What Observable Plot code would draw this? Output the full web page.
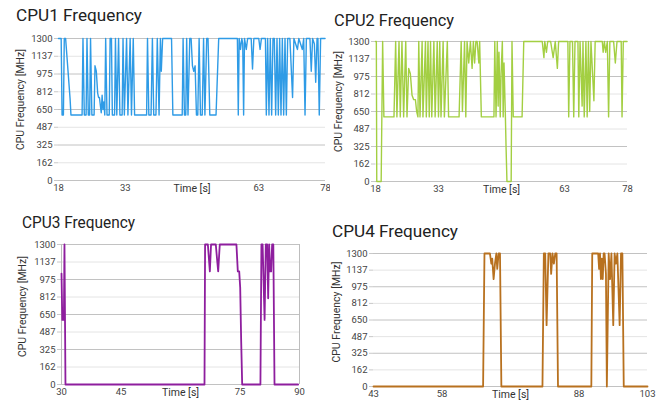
<!DOCTYPE html>
<html><head><meta charset="utf-8">
<script src="https://cdn.jsdelivr.net/npm/d3@7"></script>
<script src="https://cdn.jsdelivr.net/npm/@observablehq/plot@0.6"></script>
<style>
body{margin:0;background:#fff;font-family:Roboto,"Noto Sans",sans-serif;}
#root{position:relative;width:665px;height:400px;overflow:hidden;background:#fff}
.panel{position:absolute;overflow:hidden}
.title{position:absolute;font-size:16.5px;line-height:1;color:#222;white-space:nowrap;font-family:Roboto,sans-serif;transform-origin:0 0}
</style></head><body><div id="root"></div>
<script>
// ---- shared axis values ----
const yTickValues = [0, 162.5, 325, 487.5, 650, 812.5, 975, 1137.5, 1300];
const yTickLabels = ["0", "162", "325", "487", "650", "812", "975", "1137", "1300"];
const yAxisTitle = "CPU Frequency [MHz]";
const xAxisTitle = "Time [s]";

// ---- CPU1 ----
const cpu1Title = "CPU1 Frequency";
const cpu1XTicks = [18, 33, 63, 78];
const cpu1Time = [18.0,18.6,18.8,19.1,19.3,19.6,20.6,20.8,23.3,23.5,23.8,24.2,24.4,24.7,25.0,25.2,25.5,26.0,26.2,26.5,26.8,27.0,27.2,27.4,27.6,27.8,28.0,28.2,28.4,28.6,28.9,29.4,29.6,29.9,30.1,30.6,30.8,31.1,31.5,31.8,32.3,32.5,32.8,33.3,33.6,34.1,34.4,34.8,35.1,37.8,38.0,38.3,38.8,39.1,39.4,39.9,40.2,40.6,40.9,41.1,41.4,43.4,43.7,45.8,46.0,46.3,46.6,46.8,47.1,47.5,47.8,48.1,48.4,48.7,49.0,49.3,49.6,49.9,50.3,50.6,50.9,51.3,51.6,52.0,52.3,53.4,54.0,58.2,58.4,58.6,58.9,59.2,59.4,59.6,59.8,60.2,60.5,61.3,61.6,61.9,63.0,63.3,63.6,64.5,64.7,65.0,65.3,65.6,65.9,66.2,66.5,66.8,67.1,67.4,67.7,68.0,68.3,68.6,68.9,69.2,69.5,70.0,70.6,70.9,71.7,72.0,72.8,73.1,73.4,73.7,74.5,74.8,75.1,75.5,75.8,76.1,76.3,76.6,76.9,77.9];
const cpu1Freq = [1300,1300,600,600,1300,1300,750,600,600,1300,600,600,1300,600,600,1300,600,600,1050,1000,800,760,760,690,620,780,650,720,600,1300,600,600,1300,1300,600,600,1300,600,1300,600,600,1300,600,1300,600,1300,600,1300,600,600,1300,600,600,1300,600,600,1300,600,1300,1000,1300,1300,600,600,1300,600,600,1300,600,1300,1300,1050,1000,1050,600,600,1300,600,600,1300,600,1300,1300,600,600,600,1300,1300,600,1300,1200,1300,1250,600,1300,1200,1300,1300,1020,1300,1300,1200,1300,1300,600,1300,600,1300,600,1300,1300,600,1300,600,1300,600,1300,600,1300,600,1300,1300,760,1300,1200,1300,1200,1300,600,1300,1300,1000,1300,1250,900,1300,1300,600,1300,1300];

// ---- CPU2 ----
const cpu2Title = "CPU2 Frequency";
const cpu2XTicks = [18, 33, 63, 78];
const cpu2Time = [18.0,18.2,18.3,19.35,19.7,20.0,22.4,22.8,23.1,23.6,23.9,24.3,24.7,25.2,25.5,25.9,26.3,26.7,27.1,27.5,27.8,28.1,28.3,28.6,29.1,29.3,29.9,30.1,30.5,30.8,31.1,31.4,31.9,32.2,32.7,33.0,33.3,33.6,34.1,34.4,35.1,35.4,37.9,38.4,38.7,39.2,39.5,39.8,40.2,40.6,41.0,41.3,41.6,41.9,42.2,42.6,42.8,43.2,46.2,46.4,46.7,47.0,47.2,47.4,47.7,47.9,48.2,48.4,48.6,48.9,49.1,49.3,50.3,50.5,50.8,52.9,53.3,57.7,58.1,58.3,58.7,59.0,59.7,60.3,60.8,61.3,61.6,62.8,63.8,64.0,64.3,64.9,65.2,65.5,66.2,66.4,66.7,67.2,67.4,67.7,68.1,68.4,68.7,69.0,69.3,70.0,70.3,72.0,72.2,72.5,72.8,73.2,73.5,73.8,74.7,75.1,75.5,76.5,76.7,77.0,77.9];
const cpu2Freq = [1300,1300,0,0,1300,600,600,1300,600,1300,600,1300,600,1300,600,1050,1000,800,760,760,650,600,1300,600,1300,600,1300,600,1300,600,1300,600,1300,600,1300,600,1300,600,1300,600,1300,600,600,1300,650,1300,600,1300,1100,1300,1050,1300,1100,1300,1300,1100,1300,600,600,1300,600,1300,700,1200,600,1000,1300,600,1100,650,300,0,0,1300,600,600,1300,1300,1150,1300,1200,1300,1300,1150,1300,1050,1300,1300,1300,600,1300,1300,600,1300,1300,600,1300,700,1300,600,1300,600,1300,650,1300,750,1300,1300,1200,1300,1200,1300,600,1300,1300,1100,1300,1300,600,1300,1300];

// ---- CPU3 ----
const cpu3Title = "CPU3 Frequency";
const cpu3XTicks = [30, 45, 75, 90];
const cpu3Time = [30.0,30.2,30.6,30.75,31.0,66.05,66.2,66.9,67.4,67.7,68.9,69.25,69.5,69.9,74.1,74.45,74.8,75.05,75.3,75.55,80.15,80.4,80.7,81.2,81.5,81.85,82.1,82.35,82.6,82.85,83.1,83.4,83.7,89.65];
const cpu3Freq = [1030,600,600,1300,0,0,1300,1300,1050,1300,1300,1150,1050,1300,1300,1050,1050,900,400,0,0,1300,1300,600,1300,1300,800,1300,1050,1050,1300,1300,0,0];

// ---- CPU4 ----
const cpu4Title = "CPU4 Frequency";
const cpu4XTicks = [43, 58, 88, 103];
const cpu4Time = [43.0,67.0,67.3,68.5,68.8,69.0,69.3,69.6,69.9,70.1,70.4,70.7,71.0,80.0,80.3,80.6,80.9,81.3,81.7,81.9,82.2,82.5,82.8,83.1,83.4,90.7,90.9,92.2,92.4,92.6,92.8,93.0,93.2,93.4,93.6,93.9,94.1,94.5,94.8,95.1,95.5,95.8,96.1,96.4,96.9,97.2,97.5,97.8,103.0];
const cpu4Freq = [0,0,1300,1300,1200,1250,1050,1200,1300,1150,1300,1300,0,0,1300,1300,600,1300,1300,1100,1300,1200,1300,1300,0,0,1300,1300,1150,1300,1050,1250,1050,1300,1300,1100,0,1300,1050,1300,600,1300,1200,1300,600,1300,1300,0,0];

const panels = [
  {title: cpu1Title, ticks: cpu1XTicks, t: cpu1Time, v: cpu1Freq, domain: [18, 78], color: "#2e9be6", sw: 1.4,
   box: {left: 0, top: 0, width: 330, height: 200}, m: {l: 58, r: 5, t: 38, b: 20}, titlePos: {left: 16, top: 8, w: 126},
   yl: {dx: -38, dy: -10}, frame: false},
  {title: cpu2Title, ticks: cpu2XTicks, t: cpu2Time, v: cpu2Freq, domain: [18, 78], color: "#a3cf42", sw: 1.4,
   box: {left: 330, top: 0, width: 335, height: 200}, m: {l: 45, r: 38, t: 41, b: 19}, titlePos: {left: 334, top: 13, w: 120},
   yl: {dx: -37, dy: -10}, frame: false},
  {title: cpu3Title, ticks: cpu3XTicks, t: cpu3Time, v: cpu3Freq, domain: [30, 90], color: "#8e1e9e", sw: 1.8,
   box: {left: 0, top: 200, width: 330, height: 200}, m: {l: 61, r: 31, t: 44, b: 16}, titlePos: {left: 22, top: 215, w: 113},
   yl: {dx: -39, dy: -8}, frame: true},
  {title: cpu4Title, ticks: cpu4XTicks, t: cpu4Time, v: cpu4Freq, domain: [43, 103], color: "#b8711f", sw: 1.8,
   box: {left: 330, top: 200, width: 335, height: 200}, m: {l: 43, r: 18, t: 53, b: 14}, titlePos: {left: 332, top: 224, w: 126},
   yl: {dx: -37, dy: -8}, frame: false}
];

const root = document.getElementById("root");
for (const p of panels) {
  const major = yTickValues.filter((d, i) => i % 2 === 0);
  const minor = yTickValues.filter((d, i) => i % 2 === 1);
  const marks = [
    Plot.ruleY(minor, {stroke: "#e4e4e4", strokeWidth: 1}),
    Plot.ruleY(major, {stroke: "#c2c2c2", strokeWidth: 1}),
    Plot.axisY({ticks: yTickValues, tickFormat: d => yTickLabels[yTickValues.indexOf(d)], tickSize: 4, tickPadding: 2, stroke: "#c8c8c8", fill: "#444", label: null, fontSize: 9.5}),
    Plot.axisX({ticks: p.ticks, tickSize: 0, tickPadding: 4, fill: "#444", label: null, fontSize: 9.5}),
    Plot.text([yAxisTitle], {frameAnchor: "left", rotate: -90, dx: p.yl.dx, dy: p.yl.dy, text: d => d, fontSize: 10.5, fill: "#333", textAnchor: "middle"}),
    Plot.text([xAxisTitle], {frameAnchor: "bottom", lineAnchor: "top", dy: 4, text: d => d, fontSize: 10.5, fill: "#333"}),
    Plot.line(p.v, {x: p.t, y: p.v, stroke: p.color, strokeWidth: p.sw, strokeLinejoin: "round"})
  ];
  if (p.frame) {
    marks.splice(2, 0, Plot.ruleX(p.domain, {stroke: "#bdbdbd", strokeWidth: 1}));
  }
  const chart = Plot.plot({
    width: p.box.width, height: p.box.height,
    marginLeft: p.m.l, marginRight: p.m.r, marginTop: p.m.t, marginBottom: p.m.b,
    x: {domain: p.domain, label: null},
    y: {domain: [0, 1300], label: null},
    style: {fontFamily: "Roboto, sans-serif", fontSize: "9.5px", color: "#444", background: "transparent"},
    marks
  });
  const div = document.createElement("div");
  div.className = "panel";
  Object.assign(div.style, {left: p.box.left + "px", top: p.box.top + "px", width: p.box.width + "px", height: p.box.height + "px"});
  div.appendChild(chart);
  root.appendChild(div);
  const t = document.createElement("div");
  t.className = "title";
  t.textContent = p.title;
  Object.assign(t.style, {left: p.titlePos.left + "px", top: p.titlePos.top + "px"});
  root.appendChild(t);
  const w = t.getBoundingClientRect().width;
  if (w > 0) t.style.transform = `scaleX(${p.titlePos.w / w})`;
}
</script></body></html>
